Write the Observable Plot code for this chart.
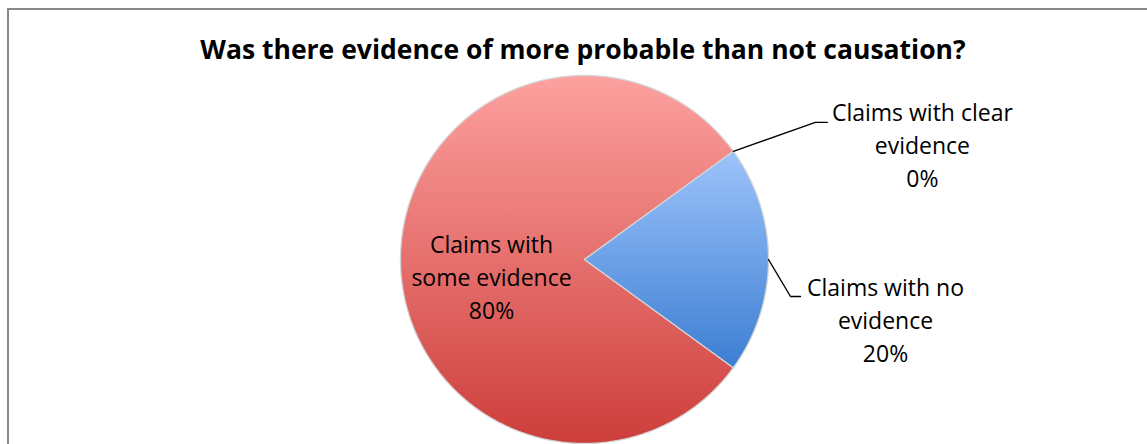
<!DOCTYPE html>
<html><head><meta charset="utf-8">
<script src="https://cdn.jsdelivr.net/npm/d3@7"></script>
<script src="https://cdn.jsdelivr.net/npm/@observablehq/plot@0.6"></script>
<style>
html,body{margin:0;padding:0;background:#fff;overflow:hidden;width:1147px;height:444px}
#frame{position:absolute;left:7px;top:8px;width:1200px;height:500px;border:2px solid #878787;box-sizing:border-box}
#title{position:absolute;left:0;top:33px;width:1166px;text-align:center;font-family:"Open Sans",Lato,sans-serif;font-weight:bold;font-size:26.5px;color:#000;line-height:32px}
#chart{position:absolute;left:0;top:0}
</style>
</head><body>
<div id="frame"></div>
<div id="chart"></div>
<div id="title">Was there evidence of more probable than not causation?</div>
<script>
// ---- data ----
const categories = ["Claims with some evidence", "Claims with clear evidence", "Claims with no evidence"];
const shares = [80, 0, 20];
const wrappedLabels = [["Claims with", "some evidence"], ["Claims with clear", "evidence"], ["Claims with no", "evidence"]];
const gradientTop = ["#fda19f", "#9dc3fb", "#9dc3fb"];
const gradientBottom = ["#cd3e3b", "#3c7ed2", "#3c7ed2"];

// ---- layout ----
const W = 1147, H = 444, cx = 584, cy = 259, R = 184;
const startDeg = 126;
const rows = categories.map((c, i) => ({cat: c, share: shares[i], i}));
const a0 = startDeg * Math.PI / 180;
const arcs = d3.pie().sort(null).value(d => d.share).startAngle(a0).endAngle(a0 + 2 * Math.PI)(rows);
const pt = (a, r) => ({x: cx + r * Math.sin(a), y: cy - r * Math.cos(a)});

const slicePts = arcs.filter(a => a.value > 0).map(a => {
  const pts = [{...pt(0, 0), cat: a.data.cat}];
  const n = Math.max(2, Math.ceil((a.endAngle - a.startAngle) / (Math.PI / 360)));
  for (let k = 0; k <= n; k++) {
    const t = a.startAngle + (a.endAngle - a.startAngle) * k / n;
    pts.push({...pt(t, R), cat: a.data.cat});
  }
  return {i: a.data.i, pts};
});

// labels: inside for the big slice, outside with leader for the others
const labelRows = [];
const leaderPts = [];
arcs.forEach(a => {
  const i = a.data.i;
  const text = wrappedLabels[i].join("\n") + "\n" + shares[i] + "%";
  const mid = (a.startAngle + a.endAngle) / 2;
  if (i === 0) {
    const p = pt(mid, R * 0.5);
    labelRows.push({x: p.x - 1, y: p.y + 16, text});
  } else {
    const e = pt(mid, R);
    let elbow, end, lab;
    if (a.value === 0) {
      elbow = {x: e.x + 82, y: e.y - 29}; end = {x: elbow.x + 12, y: elbow.y};
      lab = {x: end.x + 95, y: elbow.y + 21};
    } else {
      elbow = {x: e.x + 22, y: e.y + 37}; end = {x: elbow.x + 10, y: elbow.y};
      lab = {x: end.x + 85, y: elbow.y + 22};
    }
    [e, elbow, end].forEach(p => leaderPts.push({...p, cat: a.data.cat}));
    labelRows.push({...lab, text});
  }
});

const font = "'Open Sans', Lato, sans-serif";
const marks = slicePts.map(s => Plot.line(s.pts, {
  x: "x", y: "y", curve: "linear-closed", fill: "url(#grad" + s.i + ")",
  stroke: "#d4d4d4", strokeWidth: 1.3
}));
marks.push(Plot.line(leaderPts, {x: "x", y: "y", z: "cat", stroke: "#000", strokeWidth: 1.4}));
marks.push(Plot.text(labelRows, {
  x: "x", y: "y", text: "text", fontSize: 23, fontFamily: font, fill: "#000",
  lineHeight: 1.43, lineAnchor: "middle", textAnchor: "middle"
}));

const svg = Plot.plot({
  width: W, height: H, margin: 0,
  x: {domain: [0, W], range: [0, W], axis: null},
  y: {domain: [0, H], range: [0, H], axis: null},
  style: {background: "transparent", overflow: "visible"},
  marks
});

const defs = d3.select(svg).insert("defs", ":first-child");
[0, 1, 2].forEach(i => {
  const g = defs.append("linearGradient").attr("id", "grad" + i)
    .attr("x1", 0).attr("y1", 0).attr("x2", 0).attr("y2", 1);
  g.append("stop").attr("offset", 0).attr("stop-color", gradientTop[i]);
  g.append("stop").attr("offset", 1).attr("stop-color", gradientBottom[i]);
});
d3.select(svg).selectAll("path").filter(function () {
  return (this.getAttribute("fill") || "").startsWith("url(#grad0");
}).style("filter", "drop-shadow(0px 2px 2px rgba(0,0,0,0.35))");
document.getElementById("chart").appendChild(svg);
</script>
</body></html>
